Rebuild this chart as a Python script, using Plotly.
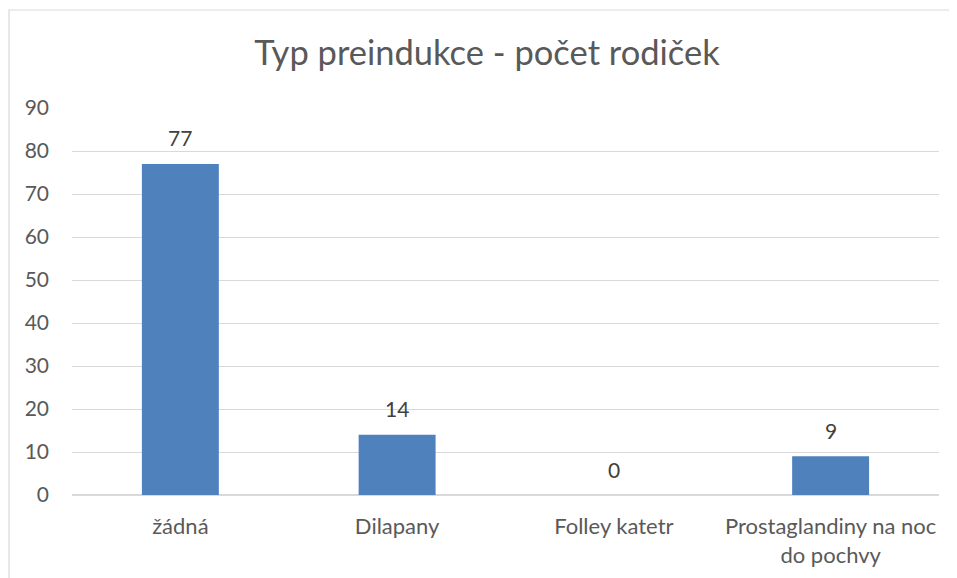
import plotly.graph_objects as go

categories = ["žádná", "Dilapany", "Folley katetr", "Prostaglandiny na noc<br>do pochvy"]
values = [77, 14, 0, 9]
tick_vals = [0, 10, 20, 30, 40, 50, 60, 70, 80, 90]

FONT = "Lato, Open Sans, Liberation Sans, sans-serif"
TXT = "#595959"

fig = go.Figure(go.Bar(
    x=categories, y=values,
    marker=dict(color="#4f81bd", line=dict(width=0)),
    hoverinfo="skip",
))

# page body has an 8px offset, so the figure spans 8..957 x 8..578 of the window
W, H = 949, 570
ml, mr, mt, mb = 64, 18, 100, 83
pw = W - ml - mr
ph = H - mt - mb

annotations = [
    dict(x=c, y=v, xref="x", yref="y", text=str(v), showarrow=False,
         yanchor="middle", yshift=26, font=dict(size=21, color="#404040", family=FONT))
    for c, v in zip(categories, values)
]

fig.update_layout(
    width=W, height=H,
    margin=dict(l=ml, r=mr, t=mt, b=mb),
    paper_bgcolor="white", plot_bgcolor="white",
    bargap=0.645,
    showlegend=False,
    title=dict(text="Typ preindukce - počet rodiček", x=479 / W, xref="container", xanchor="center",
               y=1 - 45 / H, yref="container", yanchor="middle",
               font=dict(size=34.5, color=TXT, family=FONT)),
    font=dict(family=FONT, color=TXT),
    xaxis=dict(showgrid=False, showline=False, ticks="", zeroline=False, automargin=False,
               tickfont=dict(size=22, color=TXT, family=FONT), ticklabelstandoff=16),
    yaxis=dict(range=[0, 90], tickvals=tick_vals, showgrid=True, gridcolor="#d9d9d9", gridwidth=1,
               zeroline=True, zerolinecolor="#d9d9d9", zerolinewidth=1.5, showline=False, ticks="",
               automargin=False,
               tickfont=dict(size=21, color=TXT, family=FONT), ticklabelstandoff=22),
    annotations=annotations,
    shapes=[dict(type="rect", xref="paper", yref="paper",
                 x0=(1 - ml) / pw, x1=1.2, y0=-0.3, y1=1 + (mt - 2) / ph,
                 line=dict(color="#d9d9d9", width=1.2), fillcolor="rgba(0,0,0,0)", layer="below")],
)

fig.write_html("out.html")
